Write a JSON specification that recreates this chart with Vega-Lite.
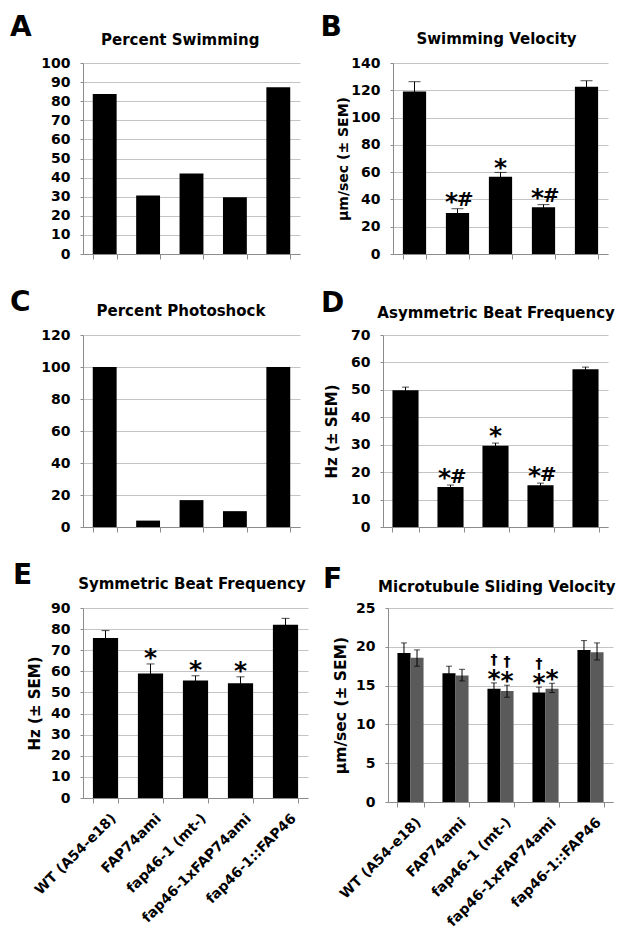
{
  "$schema": "https://vega.github.io/schema/vega-lite/v6.json",
  "padding": {"left": 10, "top": 13, "right": 5, "bottom": 5},
  "background": "white",
  "config": {
    "view": {"stroke": null},
    "axis": {"labelFont": "DejaVu Sans", "labelFontWeight": "bold", "labelFontSize": 14, "labelColor": "#000000", "titleFont": "DejaVu Sans", "titleFontWeight": "bold", "titleColor": "#000000", "domainColor": "#8c8c8c", "tickColor": "#8c8c8c", "gridColor": "#c4c4c4"},
    "axisY": {"tickSize": 3, "labelPadding": 10, "grid": true},
    "axisX": {"tickBand": "extent", "tickSize": 5, "grid": false, "labelAngle": -45, "labelPadding": 8, "labelOffset": 3},
    "title": {"font": "DejaVu Sans", "fontSize": 28, "fontWeight": "bold", "color": "#000000", "anchor": "start", "frame": "group"},
    "text": {"font": "DejaVu Sans", "fontWeight": "bold", "color": "#000000", "align": "center", "baseline": "alphabetic"}
  },
  "datasets": {
    "A": [
      {"g": "WT (A54-e18)", "v": 83.8},
      {"g": "FAP74ami", "v": 30.6},
      {"g": "fap46-1 (mt-)", "v": 42.2},
      {"g": "fap46-1xFAP74ami", "v": 29.7},
      {"g": "fap46-1::FAP46", "v": 87.3}
    ],
    "B": [
      {"g": "WT (A54-e18)", "v": 119.2, "lo": 112.1, "hi": 126.3, "s1": "", "s2": "", "h": ""},
      {"g": "FAP74ami", "v": 30.1, "lo": 27.0, "hi": 33.2, "s1": "", "s2": "*", "h": "#"},
      {"g": "fap46-1 (mt-)", "v": 56.7, "lo": 53.6, "hi": 59.8, "s1": "*", "s2": "", "h": ""},
      {"g": "fap46-1xFAP74ami", "v": 34.2, "lo": 32.2, "hi": 36.2, "s1": "", "s2": "*", "h": "#"},
      {"g": "fap46-1::FAP46", "v": 122.6, "lo": 118.2, "hi": 127.0, "s1": "", "s2": "", "h": ""}
    ],
    "C": [
      {"g": "WT (A54-e18)", "v": 100},
      {"g": "FAP74ami", "v": 4},
      {"g": "fap46-1 (mt-)", "v": 16.8},
      {"g": "fap46-1xFAP74ami", "v": 9.9},
      {"g": "fap46-1::FAP46", "v": 100}
    ],
    "D": [
      {"g": "WT (A54-e18)", "v": 49.9, "lo": 48.8, "hi": 51.0, "s1": "", "s2": "", "h": ""},
      {"g": "FAP74ami", "v": 14.6, "lo": 13.9, "hi": 15.3, "s1": "", "s2": "*", "h": "#"},
      {"g": "fap46-1 (mt-)", "v": 29.6, "lo": 28.6, "hi": 30.6, "s1": "*", "s2": "", "h": ""},
      {"g": "fap46-1xFAP74ami", "v": 15.2, "lo": 14.4, "hi": 16.0, "s1": "", "s2": "*", "h": "#"},
      {"g": "fap46-1::FAP46", "v": 57.5, "lo": 56.7, "hi": 58.3, "s1": "", "s2": "", "h": ""}
    ],
    "E": [
      {"g": "WT (A54-e18)", "v": 75.8, "lo": 72.3, "hi": 79.3, "s1": ""},
      {"g": "FAP74ami", "v": 59.0, "lo": 54.5, "hi": 63.5, "s1": "*"},
      {"g": "fap46-1 (mt-)", "v": 55.6, "lo": 53.3, "hi": 57.9, "s1": "*"},
      {"g": "fap46-1xFAP74ami", "v": 54.4, "lo": 51.4, "hi": 57.4, "s1": "*"},
      {"g": "fap46-1::FAP46", "v": 82.1, "lo": 79.1, "hi": 85.1, "s1": ""}
    ],
    "F": [
      {"g": "WT (A54-e18)", "s": "a", "v": 19.2, "lo": 17.9, "hi": 20.5, "star": "", "dag": ""},
      {"g": "WT (A54-e18)", "s": "b", "v": 18.6, "lo": 17.5, "hi": 19.6, "star": "", "dag": ""},
      {"g": "FAP74ami", "s": "a", "v": 16.6, "lo": 15.7, "hi": 17.5, "star": "", "dag": ""},
      {"g": "FAP74ami", "s": "b", "v": 16.3, "lo": 15.6, "hi": 17.1, "star": "", "dag": ""},
      {"g": "fap46-1 (mt-)", "s": "a", "v": 14.6, "lo": 13.85, "hi": 15.35, "star": "*", "dag": "†"},
      {"g": "fap46-1 (mt-)", "s": "b", "v": 14.3, "lo": 13.5, "hi": 15.05, "star": "*", "dag": "†"},
      {"g": "fap46-1xFAP74ami", "s": "a", "v": 14.1, "lo": 13.4, "hi": 14.8, "star": "*", "dag": "†"},
      {"g": "fap46-1xFAP74ami", "s": "b", "v": 14.6, "lo": 14.1, "hi": 15.3, "star": "*", "dag": ""},
      {"g": "fap46-1::FAP46", "s": "a", "v": 19.6, "lo": 18.4, "hi": 20.8, "star": "", "dag": ""},
      {"g": "fap46-1::FAP46", "s": "b", "v": 19.3, "lo": 18.3, "hi": 20.5, "star": "", "dag": ""}
    ]
  },
  "spacing": 28,
  "vconcat": [
    {
      "spacing": 20,
      "hconcat": [
        {
          "data": {"name": "A"},
          "width": 217, "height": 191,
          "title": {"text": "A", "dx": -73, "offset": -9.7},
          "resolve": {"axis": {"x": "independent"}},
          "encoding": {"x": {"field": "g", "type": "nominal", "sort": ["WT (A54-e18)", "FAP74ami", "fap46-1 (mt-)", "fap46-1xFAP74ami", "fap46-1::FAP46"], "scale": {"paddingInner": 0.45, "paddingOuter": 0.225}, "axis": null}},
          "layer": [
            {"mark": {"type": "bar", "color": "#000000"}, "encoding": {
              "x": {"field": "g", "type": "nominal", "sort": ["WT (A54-e18)", "FAP74ami", "fap46-1 (mt-)", "fap46-1xFAP74ami", "fap46-1::FAP46"], "axis": {"labels": false, "title": null}},
              "y": {"field": "v", "type": "quantitative", "title": null, "scale": {"domain": [0, 100], "nice": false}, "axis": {"values": [0, 10, 20, 30, 40, 50, 60, 70, 80, 90, 100]}}}},
            {"transform": [{"filter": "false"}], "mark": "rule", "encoding": {
              "x": {"field": "g", "type": "nominal", "sort": ["WT (A54-e18)", "FAP74ami", "fap46-1 (mt-)", "fap46-1xFAP74ami", "fap46-1::FAP46"], "axis": {"orient": "top", "title": "Percent Swimming", "titleFontSize": 15, "titleX": 96.7, "titleY": -18.7, "titleBaseline": "alphabetic", "titleAlign": "center", "labels": false, "ticks": false, "domain": false, "grid": false}}}}
          ]
        },
        {
          "data": {"name": "B"},
          "width": 215, "height": 191,
          "title": {"text": "B", "dx": -72.5, "offset": -10.7},
          "resolve": {"axis": {"x": "independent"}},
          "encoding": {"x": {"field": "g", "type": "nominal", "sort": ["WT (A54-e18)", "FAP74ami", "fap46-1 (mt-)", "fap46-1xFAP74ami", "fap46-1::FAP46"], "scale": {"paddingInner": 0.46, "paddingOuter": 0.23}, "axis": null}},
          "layer": [
            {"mark": {"type": "bar", "color": "#000000"}, "encoding": {
              "x": {"field": "g", "type": "nominal", "sort": ["WT (A54-e18)", "FAP74ami", "fap46-1 (mt-)", "fap46-1xFAP74ami", "fap46-1::FAP46"], "axis": {"labels": false, "title": null}},
              "y": {"field": "v", "type": "quantitative", "title": "µm/sec (± SEM)", "scale": {"domain": [0, 140], "nice": false}, "axis": {"values": [0, 20, 40, 60, 80, 100, 120, 140], "titleFontSize": 14, "titlePadding": 0}}}},
            {"transform": [{"filter": "false"}], "mark": "rule", "encoding": {
              "x": {"field": "g", "type": "nominal", "sort": ["WT (A54-e18)", "FAP74ami", "fap46-1 (mt-)", "fap46-1xFAP74ami", "fap46-1::FAP46"], "axis": {"orient": "top", "title": "Swimming Velocity", "titleFontSize": 15, "titleX": 103, "titleY": -19.9, "titleBaseline": "alphabetic", "titleAlign": "center", "labels": false, "ticks": false, "domain": false, "grid": false}}}},
            {"mark": {"type": "rule", "color": "#000000", "strokeWidth": 1}, "encoding": {"y": {"field": "lo", "type": "quantitative", "title": "µm/sec (± SEM)", "axis": {"values": [0, 20, 40, 60, 80, 100, 120, 140], "titleFontSize": 14, "titlePadding": 0}}, "y2": {"field": "hi"}}},
            {"mark": {"type": "tick", "color": "#000000", "thickness": 1, "size": 12}, "encoding": {"y": {"field": "hi", "type": "quantitative", "title": "µm/sec (± SEM)", "axis": {"values": [0, 20, 40, 60, 80, 100, 120, 140], "titleFontSize": 14, "titlePadding": 0}}}},
            {"mark": {"type": "text", "fontSize": 25, "dy": 4}, "encoding": {"y": {"field": "hi", "type": "quantitative", "title": "µm/sec (± SEM)", "axis": {"values": [0, 20, 40, 60, 80, 100, 120, 140], "titleFontSize": 14, "titlePadding": 0}}, "text": {"field": "s1"}}},
            {"mark": {"type": "text", "fontSize": 25, "dy": 1, "dx": -6}, "encoding": {"y": {"field": "hi", "type": "quantitative", "title": "µm/sec (± SEM)", "axis": {"values": [0, 20, 40, 60, 80, 100, 120, 140], "titleFontSize": 14, "titlePadding": 0}}, "text": {"field": "s2"}}},
            {"mark": {"type": "text", "fontSize": 20, "dy": -2.5, "dx": 7.5}, "encoding": {"y": {"field": "hi", "type": "quantitative", "title": "µm/sec (± SEM)", "axis": {"values": [0, 20, 40, 60, 80, 100, 120, 140], "titleFontSize": 14, "titlePadding": 0}}, "text": {"field": "h"}}}
          ]
        }
      ]
    },
    {
      "spacing": 21,
      "hconcat": [
        {
          "data": {"name": "C"},
          "width": 217, "height": 192,
          "title": {"text": "C", "dx": -73, "offset": -14},
          "resolve": {"axis": {"x": "independent"}},
          "encoding": {"x": {"field": "g", "type": "nominal", "sort": ["WT (A54-e18)", "FAP74ami", "fap46-1 (mt-)", "fap46-1xFAP74ami", "fap46-1::FAP46"], "scale": {"paddingInner": 0.45, "paddingOuter": 0.225}, "axis": null}},
          "layer": [
            {"mark": {"type": "bar", "color": "#000000"}, "encoding": {
              "x": {"field": "g", "type": "nominal", "sort": ["WT (A54-e18)", "FAP74ami", "fap46-1 (mt-)", "fap46-1xFAP74ami", "fap46-1::FAP46"], "axis": {"labels": false, "title": null}},
              "y": {"field": "v", "type": "quantitative", "title": null, "scale": {"domain": [0, 120], "nice": false}, "axis": {"values": [0, 20, 40, 60, 80, 100, 120]}}}},
            {"transform": [{"filter": "false"}], "mark": "rule", "encoding": {
              "x": {"field": "g", "type": "nominal", "sort": ["WT (A54-e18)", "FAP74ami", "fap46-1 (mt-)", "fap46-1xFAP74ami", "fap46-1::FAP46"], "axis": {"orient": "top", "title": "Percent Photoshock", "titleFontSize": 15, "titleX": 97.5, "titleY": -20, "titleBaseline": "alphabetic", "titleAlign": "center", "labels": false, "ticks": false, "domain": false, "grid": false}}}}
          ]
        },
        {
          "data": {"name": "D"},
          "width": 225, "height": 192,
          "title": {"text": "D", "dx": -62, "offset": -12.3},
          "resolve": {"axis": {"x": "independent"}},
          "encoding": {"x": {"field": "g", "type": "nominal", "sort": ["WT (A54-e18)", "FAP74ami", "fap46-1 (mt-)", "fap46-1xFAP74ami", "fap46-1::FAP46"], "scale": {"paddingInner": 0.42, "paddingOuter": 0.21}, "axis": null}},
          "layer": [
            {"mark": {"type": "bar", "color": "#000000"}, "encoding": {
              "x": {"field": "g", "type": "nominal", "sort": ["WT (A54-e18)", "FAP74ami", "fap46-1 (mt-)", "fap46-1xFAP74ami", "fap46-1::FAP46"], "axis": {"labels": false, "title": null}},
              "y": {"field": "v", "type": "quantitative", "title": "Hz (± SEM)", "scale": {"domain": [0, 70], "nice": false}, "axis": {"values": [0, 10, 20, 30, 40, 50, 60, 70], "titleFontSize": 15, "titlePadding": 11}}}},
            {"transform": [{"filter": "false"}], "mark": "rule", "encoding": {
              "x": {"field": "g", "type": "nominal", "sort": ["WT (A54-e18)", "FAP74ami", "fap46-1 (mt-)", "fap46-1xFAP74ami", "fap46-1::FAP46"], "axis": {"orient": "top", "title": "Asymmetric Beat Frequency", "titleFontSize": 15, "titleX": 112.6, "titleY": -17.3, "titleBaseline": "alphabetic", "titleAlign": "center", "labels": false, "ticks": false, "domain": false, "grid": false}}}},
            {"mark": {"type": "rule", "color": "#000000", "strokeWidth": 1}, "encoding": {"y": {"field": "lo", "type": "quantitative", "title": "Hz (± SEM)", "axis": {"values": [0, 10, 20, 30, 40, 50, 60, 70], "titleFontSize": 15, "titlePadding": 11}}, "y2": {"field": "hi"}}},
            {"mark": {"type": "tick", "color": "#000000", "thickness": 1, "size": 7}, "encoding": {"y": {"field": "hi", "type": "quantitative", "title": "Hz (± SEM)", "axis": {"values": [0, 10, 20, 30, 40, 50, 60, 70], "titleFontSize": 15, "titlePadding": 11}}}},
            {"mark": {"type": "text", "fontSize": 25, "dy": 1}, "encoding": {"y": {"field": "hi", "type": "quantitative", "title": "Hz (± SEM)", "axis": {"values": [0, 10, 20, 30, 40, 50, 60, 70], "titleFontSize": 15, "titlePadding": 11}}, "text": {"field": "s1"}}},
            {"mark": {"type": "text", "fontSize": 25, "dy": 1, "dx": -6}, "encoding": {"y": {"field": "hi", "type": "quantitative", "title": "Hz (± SEM)", "axis": {"values": [0, 10, 20, 30, 40, 50, 60, 70], "titleFontSize": 15, "titlePadding": 11}}, "text": {"field": "s2"}}},
            {"mark": {"type": "text", "fontSize": 20, "dy": -2.5, "dx": 7.5}, "encoding": {"y": {"field": "hi", "type": "quantitative", "title": "Hz (± SEM)", "axis": {"values": [0, 10, 20, 30, 40, 50, 60, 70], "titleFontSize": 15, "titlePadding": 11}}, "text": {"field": "h"}}}
          ]
        }
      ]
    },
    {
      "spacing": 15,
      "hconcat": [
        {
          "data": {"name": "E"},
          "width": 225, "height": 190,
          "title": {"text": "E", "dx": -70, "offset": -14},
          "resolve": {"axis": {"x": "independent"}},
          "encoding": {"x": {"field": "g", "type": "nominal", "sort": ["WT (A54-e18)", "FAP74ami", "fap46-1 (mt-)", "fap46-1xFAP74ami", "fap46-1::FAP46"], "scale": {"paddingInner": 0.44, "paddingOuter": 0.22}, "axis": null}},
          "layer": [
            {"mark": {"type": "bar", "color": "#000000"}, "encoding": {
              "x": {"field": "g", "type": "nominal", "sort": ["WT (A54-e18)", "FAP74ami", "fap46-1 (mt-)", "fap46-1xFAP74ami", "fap46-1::FAP46"], "axis": {"title": null}},
              "y": {"field": "v", "type": "quantitative", "title": "Hz (± SEM)", "scale": {"domain": [0, 90], "nice": false}, "axis": {"values": [0, 10, 20, 30, 40, 50, 60, 70, 80, 90], "titleFontSize": 15, "titlePadding": 8}}}},
            {"transform": [{"filter": "false"}], "mark": "rule", "encoding": {
              "x": {"field": "g", "type": "nominal", "sort": ["WT (A54-e18)", "FAP74ami", "fap46-1 (mt-)", "fap46-1xFAP74ami", "fap46-1::FAP46"], "axis": {"orient": "top", "title": "Symmetric Beat Frequency", "titleFontSize": 15, "titleX": 108.5, "titleY": -20, "titleBaseline": "alphabetic", "titleAlign": "center", "labels": false, "ticks": false, "domain": false, "grid": false}}}},
            {"mark": {"type": "rule", "color": "#000000", "strokeWidth": 1}, "encoding": {"y": {"field": "lo", "type": "quantitative", "title": "Hz (± SEM)", "axis": {"values": [0, 10, 20, 30, 40, 50, 60, 70, 80, 90], "titleFontSize": 15, "titlePadding": 8}}, "y2": {"field": "hi"}}},
            {"mark": {"type": "tick", "color": "#000000", "thickness": 1, "size": 8}, "encoding": {"y": {"field": "hi", "type": "quantitative", "title": "Hz (± SEM)", "axis": {"values": [0, 10, 20, 30, 40, 50, 60, 70, 80, 90], "titleFontSize": 15, "titlePadding": 8}}}},
            {"mark": {"type": "text", "fontSize": 25, "dy": 2}, "encoding": {"y": {"field": "hi", "type": "quantitative", "title": "Hz (± SEM)", "axis": {"values": [0, 10, 20, 30, 40, 50, 60, 70, 80, 90], "titleFontSize": 15, "titlePadding": 8}}, "text": {"field": "s1"}}}
          ]
        },
        {
          "data": {"name": "F"},
          "width": 225, "height": 194,
          "title": {"text": "F", "dx": -65, "offset": -15},
          "resolve": {"axis": {"x": "independent"}},
          "encoding": {
            "x": {"field": "g", "type": "nominal", "sort": ["WT (A54-e18)", "FAP74ami", "fap46-1 (mt-)", "fap46-1xFAP74ami", "fap46-1::FAP46"], "scale": {"paddingInner": 0.42, "paddingOuter": 0.21}, "axis": null},
            "xOffset": {"field": "s", "type": "nominal", "scale": {"domain": ["a", "b"], "paddingInner": 0, "paddingOuter": 0}}
          },
          "layer": [
            {"mark": {"type": "bar"}, "encoding": {
              "x": {"field": "g", "type": "nominal", "sort": ["WT (A54-e18)", "FAP74ami", "fap46-1 (mt-)", "fap46-1xFAP74ami", "fap46-1::FAP46"], "axis": {"title": null}},
              "y": {"field": "v", "type": "quantitative", "title": "µm/sec (± SEM)", "scale": {"domain": [0, 25], "nice": false}, "axis": {"values": [0, 5, 10, 15, 20, 25], "titleFontSize": 15.5, "titlePadding": 7}},
              "color": {"field": "s", "type": "nominal", "scale": {"domain": ["a", "b"], "range": ["#000000", "#5a5a5a"]}, "legend": null}}},
            {"transform": [{"filter": "false"}], "mark": "rule", "encoding": {
              "x": {"field": "g", "type": "nominal", "sort": ["WT (A54-e18)", "FAP74ami", "fap46-1 (mt-)", "fap46-1xFAP74ami", "fap46-1::FAP46"], "axis": {"orient": "top", "title": "Microtubule Sliding Velocity", "titleFontSize": 15, "titleX": 108.3, "titleY": -17, "titleBaseline": "alphabetic", "titleAlign": "center", "labels": false, "ticks": false, "domain": false, "grid": false}}}},
            {"mark": {"type": "rule", "color": "#000000", "strokeWidth": 1}, "encoding": {"y": {"field": "lo", "type": "quantitative", "title": "µm/sec (± SEM)", "axis": {"values": [0, 5, 10, 15, 20, 25], "titleFontSize": 15.5, "titlePadding": 7}}, "y2": {"field": "hi"}}},
            {"mark": {"type": "tick", "color": "#000000", "thickness": 1, "size": 6}, "encoding": {"y": {"field": "hi", "type": "quantitative", "title": "µm/sec (± SEM)", "axis": {"values": [0, 5, 10, 15, 20, 25], "titleFontSize": 15.5, "titlePadding": 7}}}},
            {"mark": {"type": "tick", "color": "#000000", "thickness": 1, "size": 6}, "encoding": {"y": {"field": "lo", "type": "quantitative", "title": "µm/sec (± SEM)", "axis": {"values": [0, 5, 10, 15, 20, 25], "titleFontSize": 15.5, "titlePadding": 7}}}},
            {"mark": {"type": "text", "fontSize": 25, "dy": 4}, "encoding": {"y": {"field": "hi", "type": "quantitative", "title": "µm/sec (± SEM)", "axis": {"values": [0, 5, 10, 15, 20, 25], "titleFontSize": 15.5, "titlePadding": 7}}, "text": {"field": "star"}}},
            {"mark": {"type": "text", "fontSize": 14, "dy": -19}, "encoding": {"y": {"field": "hi", "type": "quantitative", "title": "µm/sec (± SEM)", "axis": {"values": [0, 5, 10, 15, 20, 25], "titleFontSize": 15.5, "titlePadding": 7}}, "text": {"field": "dag"}}}
          ]
        }
      ]
    }
  ]
}
